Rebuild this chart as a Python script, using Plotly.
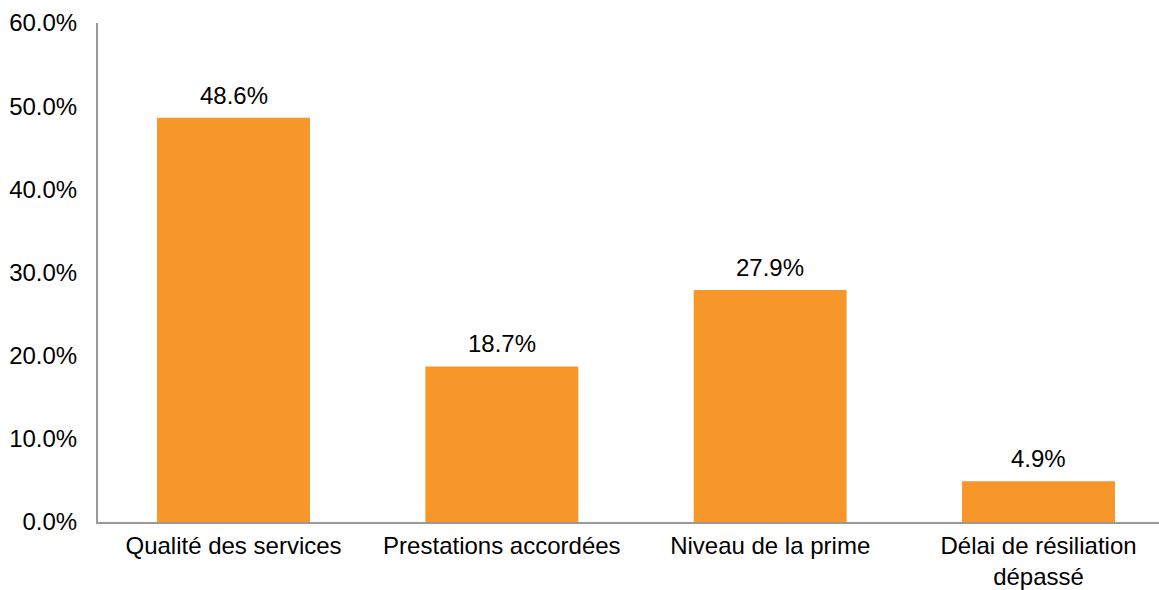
import plotly.graph_objects as go

categories = ["Qualité des services", "Prestations accordées", "Niveau de la prime", "Délai de résiliation<br>dépassé"]
values = [48.6, 18.7, 27.9, 4.9]
labels = ["48.6%", "18.7%", "27.9%", "4.9%"]
y_ticks = [0, 10, 20, 30, 40, 50, 60]
y_tick_labels = ["0.0%", "10.0%", "20.0%", "30.0%", "40.0%", "50.0%", "60.0%"]

FONT = "Liberation Sans, Arial, sans-serif"
FS = 24
fig = go.Figure()
fig.add_trace(go.Bar(x=list(range(len(categories))), y=values, width=0.57,
                     marker=dict(color="#F7972A", line=dict(width=0)),
                     hoverinfo="skip"))
for i, (v, t) in enumerate(zip(values, labels)):
    fig.add_annotation(x=i, y=v, text=t, showarrow=False, yanchor="bottom",
                       yshift=7, font=dict(family=FONT, size=FS, color="#000000"))

fig.update_layout(
    width=1159, height=590,
    margin=dict(l=98, r=0, t=23, b=68),
    paper_bgcolor="white", plot_bgcolor="white",
    showlegend=False,
    font=dict(family=FONT, size=FS, color="#000000"),
    xaxis=dict(range=[-0.505, 3.449], tickmode="array", automargin=False,
               tickvals=list(range(len(categories))), ticktext=categories,
               showline=True, linecolor="#999999", linewidth=2,
               showgrid=False, zeroline=False, ticks="", ticklabelstandoff=1,
               tickfont=dict(family=FONT, size=FS, color="#000000")),
    yaxis=dict(range=[0, 60], tickmode="array", tickvals=y_ticks, ticktext=y_tick_labels,
               automargin=False,
               showline=True, linecolor="#999999", linewidth=2,
               showgrid=False, zeroline=False, ticks="", ticklabelstandoff=14,
               tickfont=dict(family=FONT, size=FS, color="#000000")),
)
fig.write_html("out.html")
